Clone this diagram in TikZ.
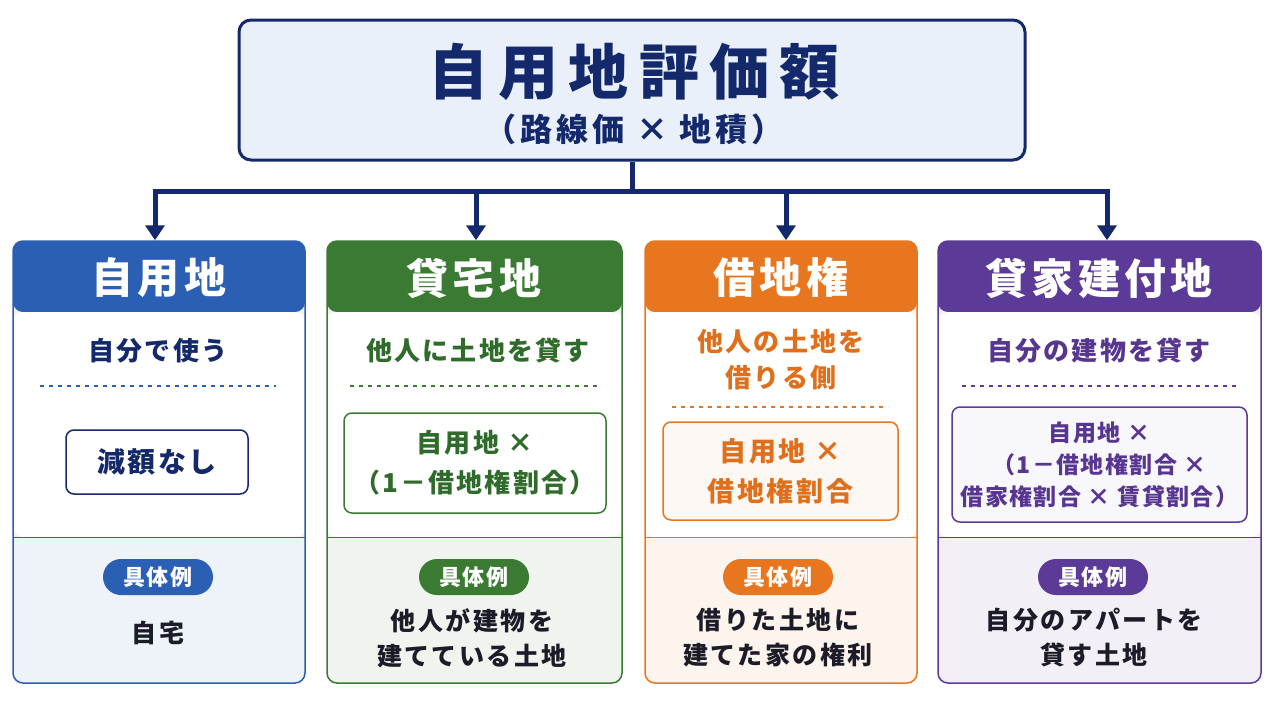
\documentclass[tikz,border=0pt]{standalone}
\usepackage{fontspec}
\setmainfont{Noto Sans CJK JP}
\usetikzlibrary{arrows.meta, positioning}

\definecolor{navy}{HTML}{13296B}
\definecolor{topfill}{HTML}{E9F0FA}
\definecolor{cBlue}{HTML}{2B5FB4}
\definecolor{cGreen}{HTML}{3B7A33}
\definecolor{cOrange}{HTML}{E8761E}
\definecolor{cPurple}{HTML}{5B3B97}
\definecolor{inkGreen}{HTML}{2F6B2A}
\definecolor{inkOrange}{HTML}{E06F1B}
\definecolor{inkPurple}{HTML}{563690}
\definecolor{ink}{HTML}{1C1C28}

\newcommand\jsize[2]{\fontsize{#1}{#1}\selectfont\addfontfeature{LetterSpace=#2}}

\begin{document}
\begin{tikzpicture}[x=1pt, y=-1pt, font=\bfseries]
    \tikzstyle{every node} = [inner sep=0pt, align=center]
    \tikzstyle{bus} = [line width=5pt, navy]
    \tikzstyle{arr} = [line width=5pt, navy, -{Triangle[width=19pt, length=15pt]}]
    \tikzstyle{colbox} = [draw=#1, line width=1.5pt, rounded corners=10pt,
      minimum height=442pt, fill=#1!8,
      path picture={
        \fill[#1] (path picture bounding box.north west)
          rectangle ([yshift=-71pt]path picture bounding box.north east);
        \fill[white] ([yshift=-71pt]path picture bounding box.north west)
          rectangle ([yshift=-296pt]path picture bounding box.north east);
        \draw[#1, line width=1pt] ([yshift=-296pt]path picture bounding box.north west)
          -- ([yshift=-296pt]path picture bounding box.north east);
      }]
    \tikzstyle{headtxt} = [text=white, font=\bfseries\jsize{42}{10}]
    \tikzstyle{subtxt} = [font=\bfseries\jsize{26}{8}, execute at begin node=\setlength{\baselineskip}{36pt}]
    \tikzstyle{dots} = [#1, line width=1.6pt, dash pattern=on 4pt off 5pt]
    \tikzstyle{fbox} = [draw=#1, line width=1.5pt, rounded corners=8pt, fill=white]
    \tikzstyle{badge} = [fill=#1, rounded corners=18pt, minimum width=110pt,
      minimum height=36pt, text=white, font=\bfseries\jsize{22}{8}]
    \tikzstyle{extxt} = [text=ink, font=\bfseries\jsize{25}{10}, execute at begin node=\setlength{\baselineskip}{35pt}]

    \useasboundingbox (0,0) rectangle (1280,702);

    % top box
    \node [draw=navy, line width=3pt, fill=topfill, rounded corners=12pt,
      minimum width=786pt, minimum height=140pt] (top) at (632,90) {};
    \node [text=navy, font=\bfseries\jsize{60}{17}] (title) at (634,72) {自用地評価額};
    \node [text=navy, font=\bfseries\jsize{32}{13}] (subtitle) at (634,129) {（路線価 × 地積）};

    % columns
    \foreach \n/\cx/\w/\c in {1/159/292/cBlue, 2/474.5/295/cGreen, 3/781/272/cOrange, 4/1099.5/323/cPurple}
      \node [colbox=\c, minimum width=\w] (col\n) at (\cx,462) {};

    % connectors
    \draw [bus] (top.south) -- ++(0,30) coordinate (bus);
    \draw [bus] ([xshift=-6.5pt]col1.north |- bus) -- ([xshift=10pt]col4.north |- bus);
    \foreach \n/\dx in {1/-4, 2/1.5, 3/5, 4/7.5}
      \draw [arr] ([xshift=\dx pt]col\n.north |- bus) -- ([xshift=\dx pt]col\n.north);

    % headers
    \node [headtxt] (head1) at (159,278) {自用地};
    \node [headtxt] (head2) at (474,278) {貸宅地};
    \node [headtxt] (head3) at (781,278) {借地権};
    \node [headtxt] (head4) at (1099,278) {貸家建付地};

    % what it means
    \node [subtxt, text=navy] (use1) at (158,351) {自分で使う};
    \node [subtxt, text=inkGreen] (use2) at (478,351) {他人に土地を貸す};
    \node [subtxt, text=inkOrange] (use3) at (781,360) {他人の土地を\\借りる側};
    \node [subtxt, text=inkPurple] (use4) at (1099,351) {自分の建物を貸す};

    \draw [dots=cBlue] (40,386) -- (276,386);
    \draw [dots=cGreen] (350,386) -- (600,386);
    \draw [dots=cOrange] (672,407) -- (888,407);
    \draw [dots=cPurple] (962,386) -- (1236,386);

    % formulas
    \node [fbox=navy, minimum width=182pt, minimum height=64pt, text=navy,
      font=\bfseries\jsize{28}{8}] (calc1) at (157,462) {減額なし};
    \node [fbox=cGreen, minimum width=262pt, minimum height=100pt] (calc2) at (475,463) {};
    \node [subtxt, text=inkGreen, execute at begin node=\setlength{\baselineskip}{40pt}] at (calc2) {自用地 ×\\（1－借地権割合）};
    \node [fbox=cOrange, fill=cOrange!5, minimum width=235pt, minimum height=98pt] (calc3) at (780.5,471) {};
    \node [subtxt, text=inkOrange, font=\bfseries\jsize{27}{10}, execute at begin node=\setlength{\baselineskip}{40pt}]
      at (calc3) {自用地 ×\\借地権割合};
    \node [fbox=cPurple, fill=cPurple!4, minimum width=295pt, minimum height=115pt] (calc4) at (1099.5,464.5) {};
    \node [text=inkPurple, font=\bfseries\jsize{23}{6}, execute at begin node=\setlength{\baselineskip}{32pt}]
      at (calc4) {自用地 ×\\（1－借地権割合 ×\\借家権割合 × 賃貸割合）};

    % examples
    \node [badge=cBlue] (tag1) at (158,577) {具体例};
    \node [badge=cGreen] (tag2) at (474,577) {具体例};
    \node [badge=cOrange] (tag3) at (778,577) {具体例};
    \node [badge=cPurple] (tag4) at (1093,577) {具体例};

    \node [extxt] (ex1) at (158,633) {自宅};
    \node [extxt] (ex2) at (472,638) {他人が建物を\\建てている土地};
    \node [extxt] (ex3) at (778,638) {借りた土地に\\建てた家の権利};
    \node [extxt] (ex4) at (1094,638) {自分のアパートを\\貸す土地};
\end{tikzpicture}
\end{document}
